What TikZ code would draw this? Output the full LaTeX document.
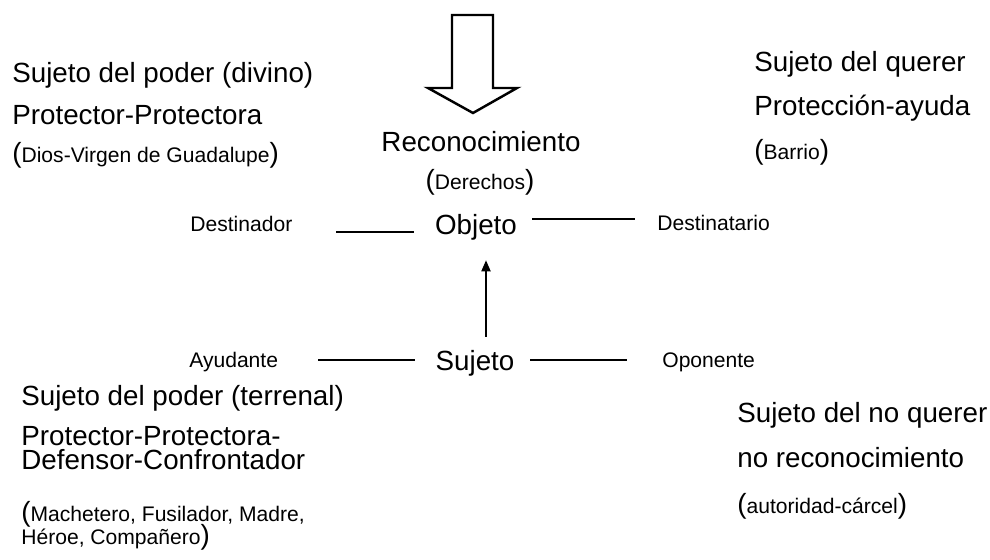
\documentclass[tikz,border=0pt]{standalone}
\usepackage{fontspec}
\setmainfont{Liberation Sans}
\usetikzlibrary{arrows.meta}
\newcommand{\openpar}{{\fontsize{15.8}{16}\selectfont(}}
\newcommand{\closepar}{{\fontsize{15.8}{16}\selectfont)}}
\tikzset{
    actant diagram/.style = {x=0.02cm, y=-0.02cm, >={Triangle[length=6.5pt, width=5pt]}},
    bigtext/.style     = {inner sep=0pt, font=\fontsize{15.8}{16}\selectfont},
    smalltext/.style   = {inner sep=0pt, font=\fontsize{12}{12}\selectfont},
    leftline/.style    = {anchor=base west},
    rule/.style        = {line width=0.6pt},
    push/.style        = {->, line width=1.5pt},
    hollow arrow/.style = {draw, line width=1.4pt, fill=white, line join=miter}
}

\begin{document}
\begin{tikzpicture}[actant diagram]
\useasboundingbox (0,0) rectangle (990,560);

% ================= Hollow arrow (top) =================
\draw[hollow arrow] (452,15) -- (493,15) -- (493,88) -- (517,88)
    -- (473,113) -- (428,88) -- (452,88) -- cycle;

% ================= Central axis =================
\node[bigtext, anchor=base] (recon) at (481,152) {Reconocimiento};
\node[smalltext, anchor=base] (derechos) at (480,190) {\openpar Derechos\closepar};
\node[bigtext, anchor=base] (objeto) at (476,235) {Objeto};
\node[bigtext, anchor=base] (sujeto) at (475,370) {Sujeto};

\coordinate (tail) at (486,337);
\coordinate (tip) at (486,260);
\draw[push] (tail) -- (tip);

% ================= Destinador / Destinatario =================
\node[smalltext, leftline] (destinador) at (190,232) {Destinador};
\node[smalltext, leftline] (destinatario) at (657,231) {Destinatario};
\coordinate (dl) at (336,232);
\coordinate (dr) at (414,232);
\coordinate (tl) at (532,219);
\coordinate (tr) at (635,219);
\draw[rule] (dl) -- (dr);
\draw[rule] (tl) -- (tr);

% ================= Ayudante / Oponente =================
\node[smalltext, leftline] (ayudante) at (189,367) {Ayudante};
\node[smalltext, leftline] (oponente) at (662,367) {Oponente};
\coordinate (al) at (318,360);
\coordinate (ar) at (415,360);
\coordinate (ol) at (530,360);
\coordinate (or) at (627,360);
\draw[rule] (al) -- (ar);
\draw[rule] (ol) -- (or);

% ================= Top left: divine power =================
\node[bigtext, leftline] (divino) at (12,83) {Sujeto del poder (divino)};
\node[bigtext, leftline] (protdiv) at (12,125) {Protector-Protectora};
\node[smalltext, leftline] (dios) at (12,163) {\openpar Dios-Virgen de Guadalupe\closepar};

% ================= Top right: will =================
\node[bigtext, leftline] (querer) at (754,72) {Sujeto del querer};
\node[bigtext, leftline] (ayuda) at (754,116) {Protección-ayuda};
\node[smalltext, leftline] (barrio) at (754,160) {\openpar Barrio\closepar};

% ================= Bottom left: earthly power =================
\node[bigtext, leftline] (terrenal) at (21,405) {Sujeto del poder (terrenal)};
\node[bigtext, leftline] (protter) at (21,445) {Protector-Protectora-};
\node[bigtext, leftline] (defensor) at (21,469) {Defensor-Confrontador};
\node[smalltext, leftline] (machetero) at (21,521) {\openpar Machetero, Fusilador, Madre,};
\node[smalltext, leftline] (heroe) at (21,544) {Héroe, Compañero\closepar};

% ================= Bottom right: refusal =================
\node[bigtext, leftline] (noquerer) at (737,422) {Sujeto del no querer};
\node[bigtext, leftline] (norecon) at (737,467) {no reconocimiento};
\node[smalltext, leftline] (autoridad) at (737,513) {\openpar autoridad-cárcel\closepar};

\end{tikzpicture}
\end{document}
